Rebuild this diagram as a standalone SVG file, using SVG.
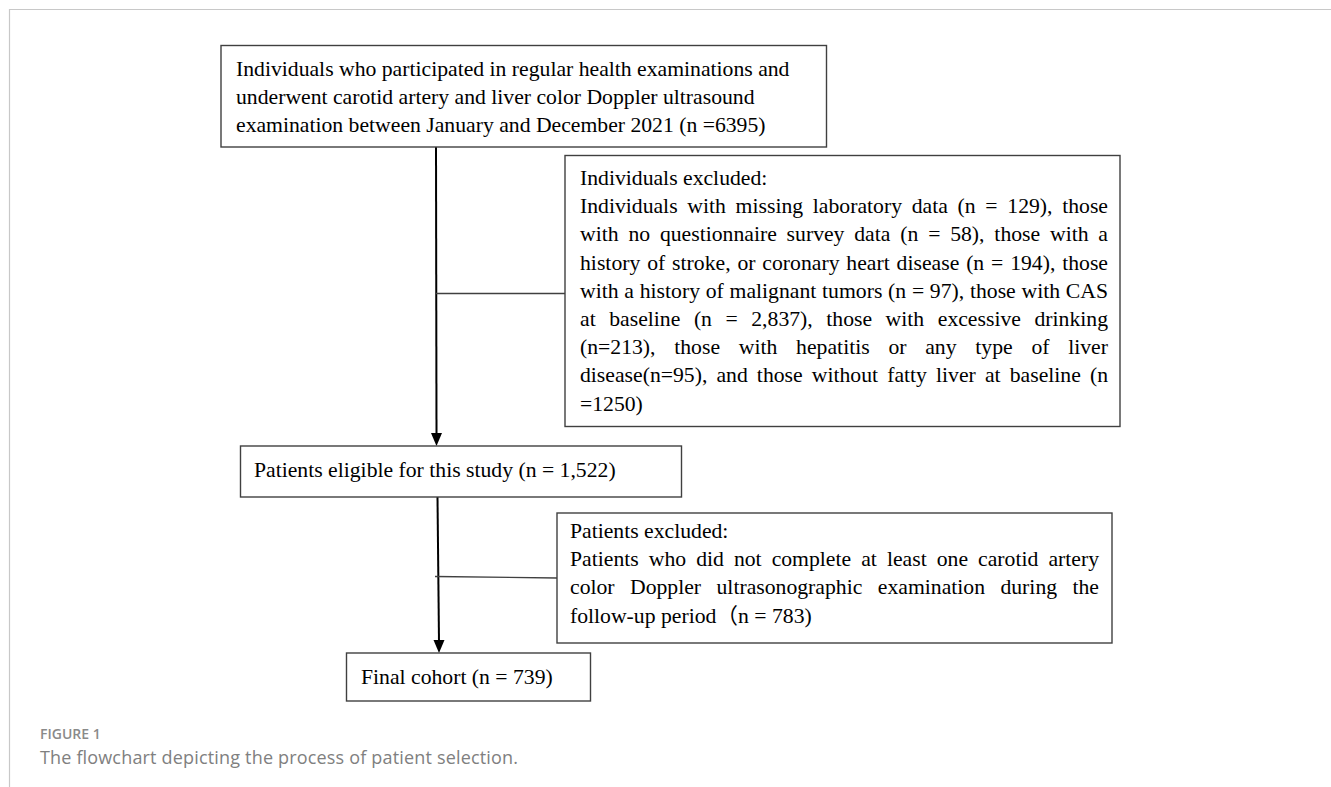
<svg xmlns="http://www.w3.org/2000/svg" width="1331" height="787" viewBox="0 0 1331 787">
<style>
.frame{stroke:#c8c8c8;stroke-width:1.2;fill:none}
.box{fill:#fff;stroke:#404040;stroke-width:1.4}
.t{font-family:"Liberation Serif","Times New Roman","Noto Sans CJK SC",serif;font-size:21.7px;fill:#000}
.arrow{stroke:#000;stroke-width:2;fill:none}
.conn{stroke:#404040;stroke-width:1.3;fill:none}
.cap1{font-family:"Open Sans","Noto Sans",sans-serif;font-weight:600;font-size:14px;fill:#8a8a8a}
.cap2{font-family:"Open Sans","Noto Sans",sans-serif;font-size:18px;fill:#808080}
</style>
<defs>
<marker id="ah" markerWidth="10" markerHeight="12" refX="5" refY="12" orient="auto-start-reverse" markerUnits="userSpaceOnUse" viewBox="0 0 10 12">
<path d="M0,0 L10,0 L5,12 Z" fill="#000"/>
</marker>
</defs>
<rect width="1331" height="787" fill="#fff"/>
<path class="frame" d="M9.5,787 V9.5 H1331"/>

<g id="connectors">
<path class="arrow" d="M436,147 L436.5,434"/>
<path d="M431,433 L442,433 L436.5,446 Z" fill="#000"/>
<path class="conn" d="M436,293.5 L565,293.5"/>
<path class="arrow" d="M437.5,497 L439,641"/>
<path d="M433.5,640 L444.5,640 L439,653 Z" fill="#000"/>
<path class="conn" d="M435,576.5 L557,578"/>
</g>

<g id="node-start">
<rect class="box" x="221" y="45.5" width="605.5" height="101.5"/>
<text class="t" x="236" y="76">Individuals who participated in regular health examinations and</text>
<text class="t" x="236" y="104">underwent carotid artery and liver color Doppler ultrasound</text>
<text class="t" x="236" y="132">examination between January and December 2021 (n =6395)</text>
</g>

<g id="node-excluded1">
<rect class="box" x="565" y="155.5" width="555" height="271"/>
<text class="t" x="580" y="185">Individuals excluded:</text>
<text class="t" x="580" y="213.2" style="word-spacing:4.3px" textLength="528" lengthAdjust="spacing">Individuals with missing laboratory data (n = 129), those</text>
<text class="t" x="580" y="241.4" style="word-spacing:4.4px" textLength="528" lengthAdjust="spacing">with no questionnaire survey data (n = 58), those with a</text>
<text class="t" x="580" y="269.6" style="word-spacing:1.4px" textLength="528" lengthAdjust="spacing">history of stroke, or coronary heart disease (n = 194), those</text>
<text class="t" x="580" y="297.8" style="word-spacing:0.3px" textLength="528" lengthAdjust="spacing">with a history of malignant tumors (n = 97), those with CAS</text>
<text class="t" x="580" y="326" style="word-spacing:8.1px" textLength="528" lengthAdjust="spacing">at baseline (n = 2,837), those with excessive drinking</text>
<text class="t" x="580" y="354.2" style="word-spacing:13.3px" textLength="528" lengthAdjust="spacing">(n=213), those with hepatitis or any type of liver</text>
<text class="t" x="580" y="382.4" style="word-spacing:3.7px" textLength="528" lengthAdjust="spacing">disease(n=95), and those without fatty liver at baseline (n</text>
<text class="t" x="580" y="410.6">=1250)</text>
</g>

<g id="node-eligible">
<rect class="box" x="240.5" y="446" width="441" height="51"/>
<text class="t" x="254" y="477">Patients eligible for this study (n = 1,522)</text>
</g>

<g id="node-excluded2">
<rect class="box" x="557" y="513" width="555" height="130"/>
<text class="t" x="570" y="538">Patients excluded:</text>
<text class="t" x="570" y="566.2" style="word-spacing:4.6px" textLength="529" lengthAdjust="spacing">Patients who did not complete at least one carotid artery</text>
<text class="t" x="570" y="594.4" style="word-spacing:10px" textLength="529" lengthAdjust="spacing">color Doppler ultrasonographic examination during the</text>
<text class="t" x="570" y="622.6">follow-up period（n = 783)</text>
</g>

<g id="node-final">
<rect class="box" x="346.5" y="653" width="244" height="48"/>
<text class="t" x="361" y="684">Final cohort (n = 739)</text>
</g>

<g id="caption">
<text class="cap1" x="40" y="739">FIGURE 1</text>
<text class="cap2" x="40" y="764" textLength="478" lengthAdjust="spacing">The flowchart depicting the process of patient selection.</text>
</g>
</svg>
